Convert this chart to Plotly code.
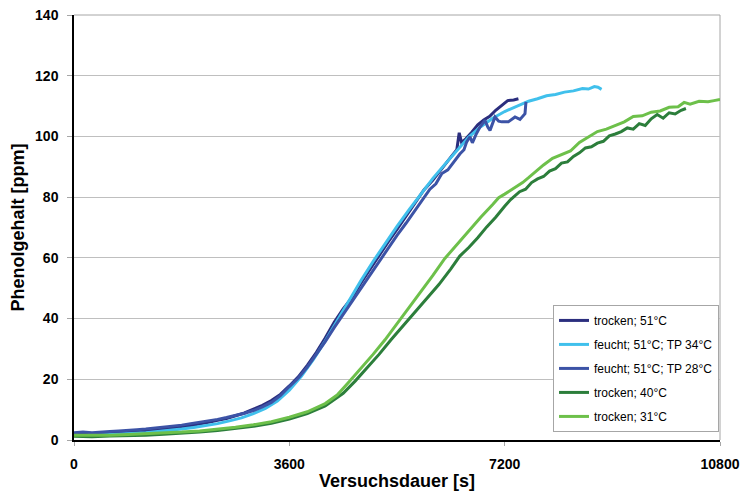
import plotly.graph_objects as go

# ---- data ----
series_names = ["trocken; 51°C", "feucht; 51°C; TP 34°C", "feucht; 51°C; TP 28°C",
                "trocken; 40°C", "trocken; 31°C"]
series_colors = ["#2B2E7E", "#40C0EC", "#3C53A6", "#2C7E3B", "#6DC04A"]

t_navy = [0, 150, 300, 450, 600, 750, 900, 1050, 1200, 1350, 1500, 1650, 1800, 1950, 2100,
          2250, 2400, 2550, 2700, 2850, 3000, 3150, 3300, 3450, 3600, 3750, 3900, 4050, 4200,
          4350, 4500, 4650, 4800, 4950, 5100, 5250, 5400, 5550, 5700, 5850, 6000, 6150, 6300,
          6400, 6440, 6480, 6550, 6650, 6750, 6850, 6950, 7050, 7150, 7250, 7350, 7430]
y_navy = [2.0, 1.8, 2.1, 2.0, 2.2, 2.4, 2.5, 2.8, 3.0, 3.2, 3.6, 3.9, 4.3, 4.8, 5.2,
          5.8, 6.5, 7.1, 8.0, 8.9, 10.2, 11.4, 13.0, 15.0, 17.8, 20.8, 24.6, 28.8, 33.6,
          38.8, 43.2, 47.0, 51.8, 56.4, 60.8, 65.2, 69.4, 73.8, 78.2, 82.4, 85.6, 89.6, 93.2,
          95.6, 101.2, 98.0, 99.2, 101.4, 103.8, 105.4, 106.6, 108.6, 110.2, 111.8, 112.0, 112.4]

t_tp34 = [0, 200, 400, 600, 800, 1000, 1200, 1400, 1600, 1800, 2000, 2200, 2400, 2600, 2800,
          3000, 3200, 3400, 3600, 3800, 4000, 4200, 4400, 4600, 4800, 5000, 5200, 5400, 5600,
          5800, 6000, 6200, 6400, 6600, 6800, 7000, 7200, 7400, 7600, 7750, 7900, 8050, 8200,
          8350, 8500, 8600, 8700, 8760, 8820]
y_tp34 = [1.5, 1.4, 1.6, 1.8, 1.9, 2.1, 2.4, 2.8, 3.1, 3.6, 4.1, 4.7, 5.4, 6.3, 7.3,
          8.7, 10.4, 12.8, 16.4, 21.0, 26.5, 32.6, 39.4, 46.0, 52.6, 58.8, 64.8, 70.4, 75.8,
          81.2, 86.2, 90.8, 95.4, 99.8, 103.2, 106.0, 108.2, 110.0, 111.6, 112.4, 113.4, 113.8, 114.6,
          115.0, 115.8, 115.6, 116.4, 116.2, 115.5]

t_tp28 = [0, 150, 300, 450, 600, 750, 900, 1050, 1200, 1350, 1500, 1650, 1800, 1950, 2100,
          2250, 2400, 2550, 2700, 2850, 3000, 3150, 3300, 3450, 3600, 3750, 3900, 4050, 4200,
          4350, 4500, 4650, 4800, 4950, 5100, 5250, 5400, 5550, 5700, 5850, 5950, 6050, 6150,
          6250, 6350, 6450, 6520, 6565, 6620, 6660, 6720, 6787, 6871, 6920, 6955, 7038, 7100,
          7150, 7261, 7320, 7373, 7456, 7540, 7556]
y_tp28 = [2.4, 2.6, 2.4, 2.7, 2.8, 3.0, 3.1, 3.4, 3.6, 3.9, 4.2, 4.5, 4.9, 5.4, 5.8,
          6.3, 6.8, 7.4, 8.0, 8.8, 9.7, 10.9, 12.4, 14.6, 17.6, 20.4, 24.0, 28.0, 32.4,
          37.0, 41.4, 45.6, 50.2, 54.6, 58.8, 63.0, 67.4, 71.4, 75.6, 79.8, 82.6, 84.4, 87.8,
          89.0, 91.6, 94.2, 95.6, 98.2, 99.9, 97.9, 100.6, 103.1, 105.3, 103.0, 102.0, 106.4, 105.0,
          104.8, 104.8, 105.8, 106.4, 105.6, 107.5, 111.4]

t_dry40 = [0, 300, 600, 900, 1200, 1500, 1800, 2100, 2400, 2700, 3000, 3300, 3600, 3900, 4200,
           4500, 4700, 4900, 5100, 5300, 5500, 5700, 5900, 6100, 6300, 6450, 6600, 6750, 6900,
           7050, 7200, 7300, 7450, 7550, 7650, 7750, 7850, 7950, 8050, 8150, 8250, 8350, 8450,
           8550, 8650, 8750, 8850, 8950, 9050, 9150, 9250, 9350, 9450, 9550, 9650, 9750, 9850,
           9950, 10050, 10150, 10230]
y_dry40 = [1.2, 1.1, 1.3, 1.4, 1.6, 1.9, 2.2, 2.6, 3.1, 3.7, 4.5, 5.5, 6.9, 8.7, 11.2,
           15.4, 19.4, 23.8, 28.2, 33.0, 37.6, 42.0, 46.6, 51.2, 56.4, 60.6, 63.4, 66.6, 70.2,
           73.4, 77.0, 79.2, 81.8, 82.6, 84.8, 86.0, 86.8, 88.6, 89.4, 91.2, 91.6, 93.4, 94.6,
           96.2, 96.6, 97.8, 98.4, 100.2, 100.8, 101.6, 102.8, 102.4, 104.2, 103.6, 105.8, 107.2, 106.0,
           107.8, 107.4, 108.6, 109.2]

t_dry31 = [0, 300, 600, 900, 1200, 1500, 1800, 2100, 2400, 2700, 3000, 3300, 3600, 3900, 4200,
           4400, 4600, 4800, 5000, 5200, 5400, 5600, 5800, 6000, 6200, 6400, 6600, 6800, 7000,
           7100, 7200, 7300, 7400, 7500, 7600, 7700, 7850, 8000, 8150, 8300, 8450, 8600, 8750,
           8900, 9050, 9200, 9350, 9500, 9650, 9800, 9950, 10100, 10200, 10300, 10450, 10600, 10700,
           10800]
y_dry31 = [1.6, 1.5, 1.6, 1.8, 2.0, 2.3, 2.6, 3.0, 3.5, 4.2, 5.0, 6.0, 7.5, 9.3, 12.0,
           14.8, 19.2, 23.6, 28.2, 33.0, 38.2, 43.4, 48.8, 54.2, 59.8, 64.4, 69.0, 73.4, 77.6,
           79.8, 81.0, 82.2, 83.4, 84.8, 86.4, 88.2, 90.6, 92.8, 94.0, 95.2, 98.0, 99.8, 101.6,
           102.4, 103.6, 104.8, 106.6, 106.8, 108.0, 108.4, 109.6, 109.8, 111.2, 110.6, 111.6, 111.4, 111.8,
           112.2]

x_ticks = [0, 3600, 7200, 10800]
y_ticks = [0, 20, 40, 60, 80, 100, 120, 140]
x_title = "Versuchsdauer [s]"
y_title = "Phenolgehalt [ppm]"

# ---- figure ----
FONT = "Arial, Liberation Sans, sans-serif"
fig = go.Figure()
all_t = [t_navy, t_tp34, t_tp28, t_dry40, t_dry31]
all_y = [y_navy, y_tp34, y_tp28, y_dry40, y_dry31]
for i, (name, col, tt, yy) in enumerate(zip(series_names, series_colors, all_t, all_y)):
    fig.add_trace(go.Scatter(x=tt, y=yy, mode="lines", name=name, legendgroup=f"g{i}",
                             line=dict(color=col, width=3)))

fig.update_layout(
    width=743, height=502,
    margin=dict(l=74, r=23, t=15, b=62),
    paper_bgcolor="white", plot_bgcolor="white",
    font=dict(family=FONT, color="black"),
    legend=dict(x=0.9985, xanchor="right", y=0.019, yanchor="bottom",
                bgcolor="white", bordercolor="#A6A6A6", borderwidth=1,
                font=dict(size=12, family=FONT, color="black"),
                tracegroupgap=5),
    xaxis=dict(range=[0, 10800], tickvals=x_ticks, ticktext=[str(v) for v in x_ticks],
               automargin=False,
               showgrid=False, zeroline=False, showline=True, linecolor="black", linewidth=1.5,
               ticks="outside", ticklen=4, tickcolor="#A6A6A6",
               tickfont=dict(size=14, family=FONT, weight="bold"),
               ticklabelstandoff=6,
               title=dict(text=x_title, font=dict(size=18, family=FONT, weight="bold"), standoff=4)),
    yaxis=dict(range=[0, 140], tickvals=y_ticks, automargin=False,
               showgrid=True, gridcolor="#BFBFBF", gridwidth=1, zeroline=False,
               showline=True, linecolor="black", linewidth=1.5,
               ticks="outside", ticklen=5, tickcolor="#A6A6A6",
               tickfont=dict(size=14, family=FONT, weight="bold"),
               ticklabelstandoff=6,
               title=dict(text=y_title, font=dict(size=18, family=FONT, weight="bold"), standoff=6)),
    shapes=[
        dict(type="line", xref="paper", yref="paper", x0=0, x1=1, y0=1, y1=1,
             line=dict(color="#A6A6A6", width=1), layer="below"),
        dict(type="line", xref="paper", yref="paper", x0=1, x1=1, y0=0, y1=1,
             line=dict(color="#A6A6A6", width=1), layer="below"),
    ],
)

fig.write_html("out.html")
